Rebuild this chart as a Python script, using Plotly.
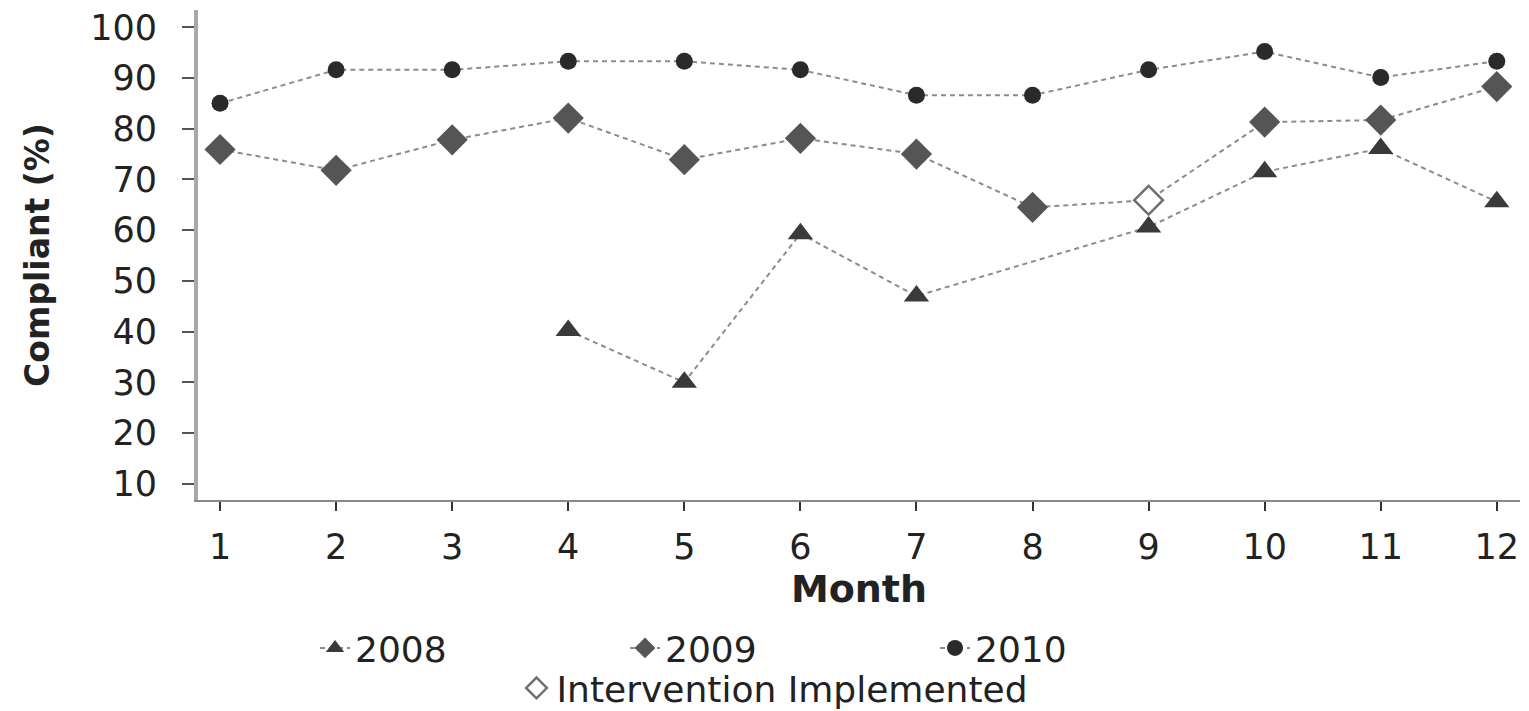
import plotly.graph_objects as go

months = list(range(1, 13))
tick_labels = [str(m) for m in months]
y_ticks = [10, 20, 30, 40, 50, 60, 70, 80, 90, 100]

v2008 = [None, None, None, 40.2, 30.0, 59.3, 47.0, None, 60.6, 71.5, 76.1, 65.6]
v2009 = [75.9, 71.8, 77.8, 82.1, 73.9, 78.1, 75.0, 64.5, 65.9, 81.3, 81.7, 88.3]
v2010 = [85.0, 91.6, 91.6, 93.3, 93.3, 91.6, 86.6, 86.6, 91.6, 95.2, 90.1, 93.3]
intervention_month = [9]
intervention_value = [65.9]

FONT = "DejaVu Sans"
LINE = dict(color="#8c8c8c", width=2, dash="5px,4px")

# page body has an 8px margin, so compensate in the figure layout
OFF = 8
W, H = 1529, 711

fig = go.Figure()
fig.add_trace(go.Scatter(x=months, y=v2008, name="2008", mode="lines+markers",
                         connectgaps=True, line=LINE,
                         marker=dict(symbol="triangle-up", size=22, color="#3a3a3a")))
fig.add_trace(go.Scatter(x=months, y=v2009, name="2009", mode="lines+markers",
                         line=LINE,
                         marker=dict(symbol="diamond", size=24, color="#555555")))
fig.add_trace(go.Scatter(x=months, y=v2010, name="2010", mode="lines+markers",
                         line=LINE,
                         marker=dict(symbol="circle", size=17, color="#2a2a2a")))
fig.add_trace(go.Scatter(x=intervention_month, y=intervention_value,
                         name="Intervention Implemented", mode="markers",
                         legend="legend2",
                         marker=dict(symbol="diamond", size=22, color="white",
                                     line=dict(color="#707070", width=2.5))))

fig.update_layout(
    width=W, height=H,
    margin=dict(l=198 - OFF, r=W - 1520 + OFF, t=10 - OFF, b=H - 500 + OFF, autoexpand=False),
    paper_bgcolor="white", plot_bgcolor="white",
    font=dict(family=FONT, size=34, color="#222222"),
    showlegend=True,
    legend=dict(orientation="h", xref="container", yref="container",
                x=(780 - OFF) / W, xanchor="center", y=(H - (648 - OFF)) / H, yanchor="middle",
                font=dict(size=36, color="#222222"), entrywidth=265,
                bgcolor="rgba(0,0,0,0)", traceorder="normal"),
    legend2=dict(orientation="h", xref="container", yref="container",
                 x=(775 - OFF) / W, xanchor="center", y=(H - (688 - OFF)) / H, yanchor="middle",
                 font=dict(size=36, color="#222222"), itemwidth=30,
                 bgcolor="rgba(0,0,0,0)"),
)

fig.update_xaxes(
    range=[0.81, 12.2], tickmode="array", tickvals=months, ticktext=tick_labels,
    showline=True, linecolor="#8a8a8a", linewidth=2, showgrid=False, zeroline=False,
    ticks="outside", ticklen=9, tickwidth=2, tickcolor="#333333",
    tickfont=dict(size=35, family=FONT), ticklabelstandoff=6, automargin=False,
    ticklabeloverflow="allow",
    title=dict(text="<b>Month</b>", font=dict(size=38, family=FONT), standoff=2),
)
fig.update_yaxes(
    range=[6.8, 103.4], tickmode="array", tickvals=y_ticks,
    showline=True, linecolor="#a8a8a8", linewidth=4, showgrid=False, zeroline=False,
    ticks="outside", ticklen=12, tickwidth=2, tickcolor="#555555",
    tickfont=dict(size=35, family=FONT), ticklabelstandoff=18, automargin=False,
    ticklabeloverflow="allow",
    title=dict(text="<b>Compliant (%)</b>", font=dict(size=33, family=FONT), standoff=32),
)

fig.write_html("out.html")
